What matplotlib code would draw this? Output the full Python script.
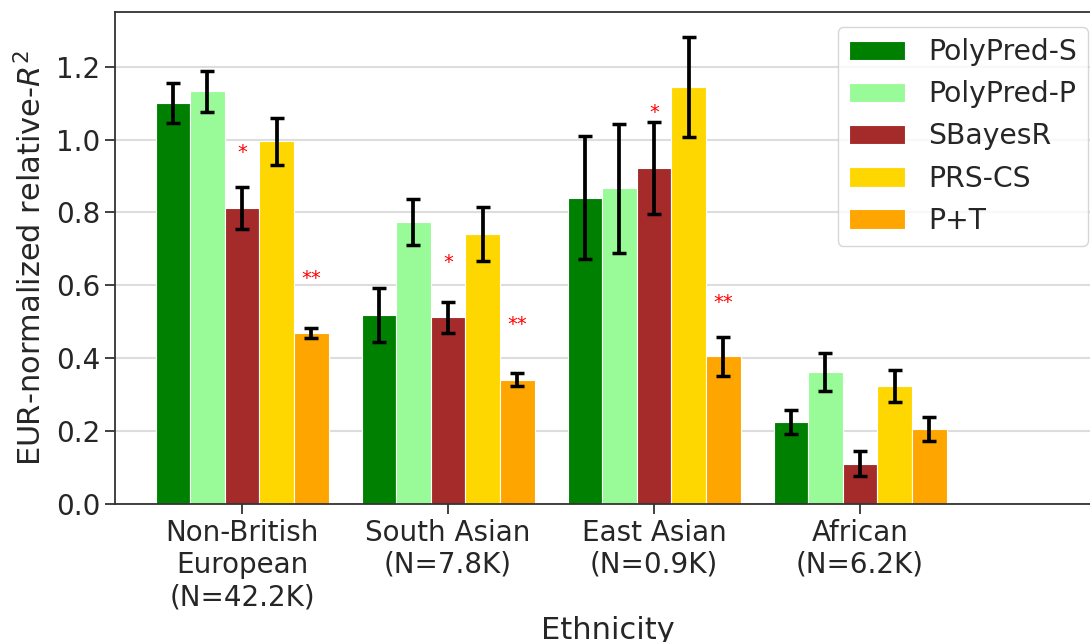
import numpy as np
import matplotlib
matplotlib.use("Agg")
import matplotlib.pyplot as plt

groups = ["Non-British\nEuropean\n(N=42.2K)", "South Asian\n(N=7.8K)",
          "East Asian\n(N=0.9K)", "African\n(N=6.2K)"]
methods = ["PolyPred-S", "PolyPred-P", "SBayesR", "PRS-CS", "P+T"]
colors = ["green", "palegreen", "brown", "gold", "orange"]

# rows = methods, cols = ethnic groups
values = np.array([
    [1.100, 0.519, 0.841, 0.225],
    [1.132, 0.775, 0.866, 0.362],
    [0.813, 0.512, 0.922, 0.111],
    [0.995, 0.741, 1.144, 0.323],
    [0.469, 0.341, 0.405, 0.206],
])
errors = np.array([
    [0.054, 0.075, 0.169, 0.034],
    [0.057, 0.063, 0.176, 0.052],
    [0.058, 0.042, 0.125, 0.034],
    [0.065, 0.074, 0.137, 0.044],
    [0.013, 0.018, 0.054, 0.032],
])

# significance marks: (method index, group index, label, y)
stars = [
    (2, 0, "*", 0.965), (4, 0, "**", 0.620),
    (2, 1, "*", 0.664), (4, 1, "**", 0.493),
    (2, 2, "*", 1.073), (4, 2, "**", 0.554),
]

text_col = "#262626"
plt.rcParams["font.family"] = ["DejaVu Sans"]

fig = plt.figure(figsize=(10.9, 6.42), dpi=100)
W, H = 1090, 642
x_lo, x_hi = -0.617, 4.17
px_per_unit = 206.0
ax_left = 115
ax_w = (x_hi - x_lo) * px_per_unit
ax = fig.add_axes([ax_left / W, 1 - 504 / H, ax_w / W, (504 - 12) / H])

x = np.arange(len(groups))
bw = 0.168
for i, m in enumerate(methods):
    pos = x + (i - 2) * bw
    ax.bar(pos, values[i], width=bw, color=colors[i], edgecolor="white",
           linewidth=0.8, label=m, zorder=2)
    ax.errorbar(pos, values[i], yerr=errors[i], fmt="none", ecolor="black",
                elinewidth=2.7, capsize=5, capthick=2.5, zorder=3)

for mi, gi, lab, yv in stars:
    ax.text(x[gi] + (mi - 2) * bw, yv, lab, color="red", fontsize=14,
            ha="center", va="center", zorder=4)

ax.set_xlim(x_lo, x_hi)
ax.set_ylim(0, 1.35)
ax.set_yticks(np.arange(0, 1.21, 0.2))
ax.set_yticklabels([f"{v:.1f}" for v in np.arange(0, 1.21, 0.2)])
ax.set_xticks(x)
ax.set_xticklabels(groups)
ax.yaxis.grid(True, color="#dddddd", linewidth=1.5, zorder=0)
ax.set_axisbelow(True)
for s in ["left", "bottom", "top", "right"]:
    ax.spines[s].set_color("#333333")
    ax.spines[s].set_linewidth(1.3)
ax.tick_params(axis="both", labelsize=20, colors=text_col, length=7,
               width=1.3, color="#333333")
ax.set_ylabel("EUR-normalized relative-$R^2$", fontsize=22, color=text_col,
              labelpad=6)
ax.set_xlabel("Ethnicity", fontsize=22, color=text_col, labelpad=3)

leg = ax.legend(loc="upper right", bbox_to_anchor=(1088 / W, 1 - 27 / H),
                bbox_transform=fig.transFigure, borderaxespad=0,
                fontsize=20.3, frameon=True, fancybox=True)
leg.get_frame().set_edgecolor("#cccccc")
leg.get_frame().set_linewidth(1.0)
for t in leg.get_texts():
    t.set_color(text_col)

fig.savefig("out.png", dpi=100)
